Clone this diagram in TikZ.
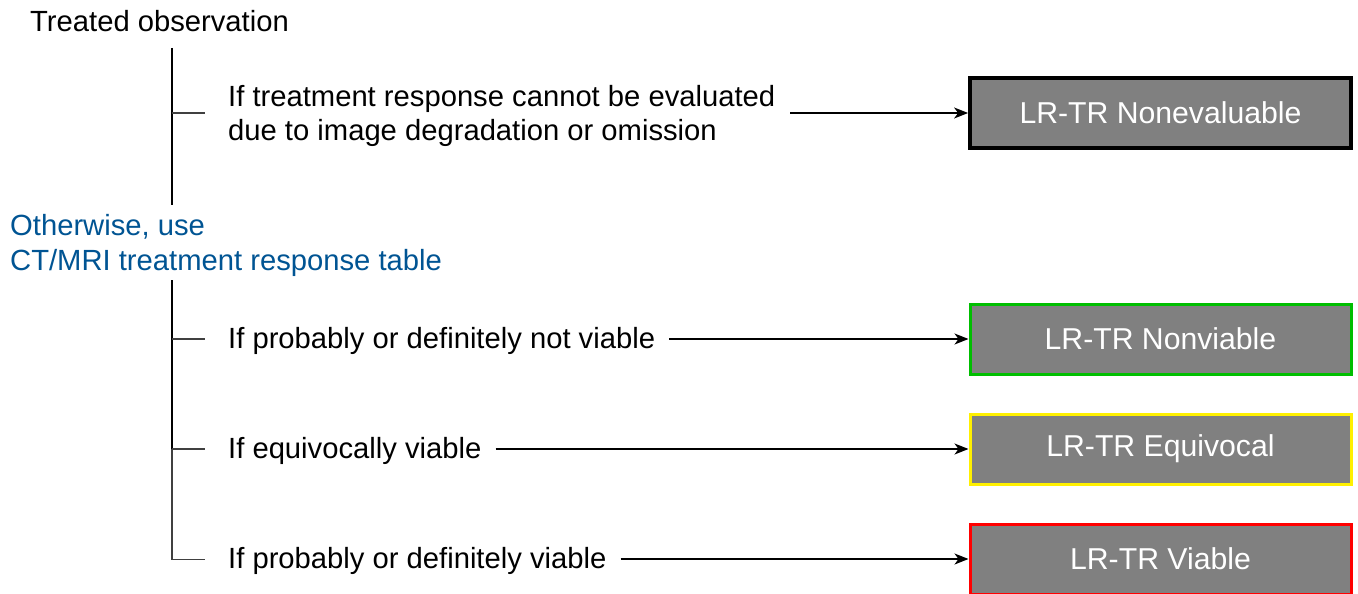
\documentclass[tikz,border=0pt]{standalone}
\usepackage{fontspec}
\setmainfont{Liberation Sans}
\usetikzlibrary{arrows.meta}
\definecolor{otherblue}{RGB}{0,84,147}
\definecolor{boxgray}{RGB}{128,128,128}
\definecolor{okgreen}{RGB}{0,190,0}
\definecolor{eqyellow}{RGB}{255,240,0}
\definecolor{badred}{RGB}{255,0,0}
\begin{document}
\begin{tikzpicture}[x=1pt,y=-1pt,
  txt/.style={font=\fontsize{29.2}{33.5}\selectfont, inner sep=0pt, anchor=west, align=left},
  outbox/.style={fill=boxgray, minimum width=381pt, minimum height=70pt, inner sep=0pt,
    font=\fontsize{30.2}{34}\selectfont, text=white, line width=3pt},
  trunk/.style={line width=1.8pt, black},
  branch/.style={line width=1.3pt, black!75},
  arr/.style={line width=1.3pt, -{Stealth[length=14pt,width=11pt,inset=4pt]}}
]
\useasboundingbox (0,0) rectangle (1358,594);

\node[txt] (root) at (30,21) {Treated observation};
\coordinate (t1top) at (172,48);
\coordinate (t1bot) at (172,205);
\draw[trunk] (t1top) -- (t1bot);
\coordinate (b1) at (172,113);
\coordinate (b1e) at (205,113);
\draw[branch] (b1) -- (b1e);
\node[txt] (c1) at (228,116) {If treatment response cannot be evaluated\\due to image degradation or omission};
\node[outbox, draw=black, line width=3.8pt] (o1) at (1160.5,113) {LR-TR Nonevaluable};
\coordinate (a1) at (790,113);
\draw[arr] (a1) -- (o1.west);

\node[txt, text=otherblue, align=left, font=\fontsize{29.2}{35}\selectfont] (other) at (10,245) {Otherwise, use\\CT/MRI treatment response table};

\coordinate (t2top) at (172,280);
\coordinate (t2bot) at (172,559.5);
\coordinate (b2) at (172,339);
\coordinate (b3) at (172,449);
\draw[trunk] (t2top) -- (b3);
\draw[branch] (b3) -- (t2bot) -- (205,559.5);
\draw[branch] (b2) -- (205,339);
\draw[branch] (b3) -- (205,449);

\node[txt] (c2) at (228,341) {If probably or definitely not viable};
\node[txt] (c3) at (228,451) {If equivocally viable};
\node[txt] (c4) at (228,561) {If probably or definitely viable};

\node[outbox, draw=okgreen] (o2) at (1160.5,339) {LR-TR Nonviable};
\node[outbox, draw=eqyellow] (o3) at (1160.5,449) {LR-TR Equivocal};
\node[outbox, draw=badred] (o4) at (1160.5,559) {LR-TR Viable};

\draw[arr] ([xshift=14pt]c2.east |- o2.west) -- (o2.west);
\draw[arr] ([xshift=14pt]c3.east |- o3.west) -- (o3.west);
\draw[arr] ([xshift=14pt]c4.east |- o4.west) -- (o4.west);
\end{tikzpicture}
\end{document}
